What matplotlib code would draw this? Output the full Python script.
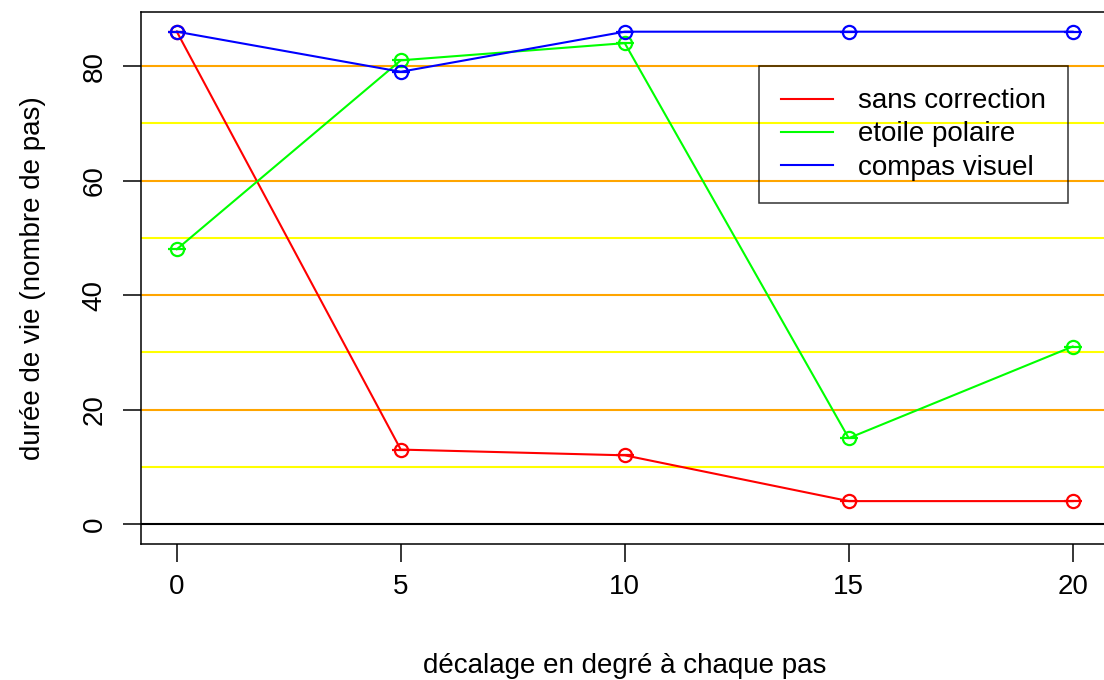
import matplotlib.pyplot as plt

plt.rcParams['font.family'] = ['Liberation Sans', 'DejaVu Sans']

# decalage en degre
x = [0, 5, 10, 15, 20]
sans_correction = [86, 13, 12, 4, 4]
etoile_polaire = [48, 81, 84, 15, 31]
compas_visuel = [86, 79, 86, 86, 86]
series = [('sans correction', sans_correction, '#FF0000'),
          ('etoile polaire', etoile_polaire, '#00FF00'),
          ('compas visuel', compas_visuel, '#0000FF')]
yellow_lines = [10, 30, 50, 70]
orange_lines = [20, 40, 60, 80]

fig = plt.figure(figsize=(11.04, 6.8), dpi=100)
ax = fig.add_axes([141/1104, 1-543.7/680, 967.5/1104, 531.7/680])

for h in yellow_lines:
    ax.axhline(h, color='#FFFF00', lw=1.5, zorder=1)
for h in orange_lines:
    ax.axhline(h, color='#FFA500', lw=1.5, zorder=1)
ax.axhline(0, color='black', lw=1.5, zorder=1)

for label, y, c in series:
    ax.plot(x, y, color=c, lw=1.5, label=label, zorder=3)
    ax.plot(x, y, ls='none', marker='o', mfc='none', mec=c, ms=9.5, mew=1.6, zorder=4)
    ax.plot(x, y, ls='none', marker='_', mec=c, ms=13.5, mew=1.6, zorder=4)

ax.set_xlim(-0.8, 20.8)
ax.set_ylim(-3.44, 89.44)
ax.set_xticks([0, 5, 10, 15, 20])
ax.set_yticks([0, 20, 40, 60, 80])
ax.tick_params(axis='both', length=13, width=1.1, labelsize=20)
ax.tick_params(axis='x', pad=9)
ax.tick_params(axis='y', pad=11)
for t in ax.get_yticklabels():
    t.set_rotation(90)
    t.set_va('center')
for s in ax.spines.values():
    s.set_linewidth(1.1)

ax.set_xlabel('décalage en degré à chaque pas', fontsize=20, labelpad=38)
ax.set_ylabel('durée de vie (nombre de pas)', fontsize=20, labelpad=26)

leg = ax.legend(loc='upper left', bbox_to_anchor=(0.6388, 0.8984), borderaxespad=0,
                fontsize=20, frameon=True, fancybox=False, facecolor='none',
                edgecolor='black', handlelength=1.85, handletextpad=0.9,
                borderpad=0.8, labelspacing=0.26)
leg.get_frame().set_linewidth(1.1)

plt.savefig('out.png', dpi=100)
